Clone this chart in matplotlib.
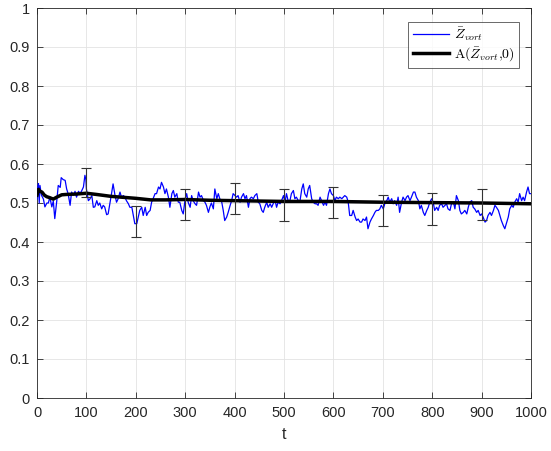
import matplotlib
matplotlib.use("Agg")
import matplotlib.pyplot as plt

# Blue noisy series
t_blue = [0, 1.5, 3, 4.5, 6, 9, 13, 16, 20, 23, 26, 30, 33, 36, 40, 43, 47, 49, 53, 57,
          60, 63, 67, 70, 74, 77, 80, 84, 87, 90, 94, 97, 99, 100, 104, 107, 111, 114, 117, 121,
          124, 127, 131, 134, 137, 141, 144, 148, 151, 154, 158, 161, 164, 168, 171, 175, 178, 181, 185, 188,
          192, 195, 198, 202, 205, 208, 212, 215, 219, 222, 225, 229, 232, 235, 239, 242, 246, 249, 252, 256,
          259, 262, 266, 269, 273, 276, 279, 283, 286, 289, 293, 296, 300, 303, 306, 310, 313, 316, 320, 323,
          327, 330, 333, 337, 340, 343, 347, 350, 353, 357, 360, 364, 367, 370, 374, 377, 380, 384, 387, 391,
          394, 397, 401, 404, 407, 411, 414, 418, 421, 424, 428, 431, 434, 438, 441, 445, 448, 451, 455, 458,
          461, 465, 468, 472, 475, 478, 482, 485, 488, 492, 495, 499, 502, 505, 509, 512, 515, 519, 522, 525,
          529, 532, 536, 539, 542, 546, 549, 552, 556, 559, 563, 566, 569, 573, 576, 580, 583, 586, 590, 593,
          596, 600, 603, 606, 610, 613, 617, 620, 623, 627, 630, 633, 637, 640, 644, 647, 650, 654, 657, 660,
          664, 667, 670, 674, 677, 681, 684, 687, 691, 694, 697, 701, 704, 708, 711, 714, 718, 721, 724, 728,
          731, 734, 738, 741, 745, 748, 751, 755, 758, 762, 765, 768, 772, 775, 778, 782, 785, 789, 792, 795,
          799, 802, 805, 809, 812, 815, 819, 822, 826, 829, 832, 836, 839, 843, 846, 849, 853, 856, 859, 863,
          866, 870, 873, 876, 880, 883, 886, 890, 893, 897, 900, 903, 907, 910, 913, 917, 920, 924, 927, 930,
          934, 937, 940, 944, 947, 950, 954, 957, 961, 964, 967, 971, 974, 977, 981, 984, 987, 991, 994, 997, 1000]
z_blue = [0.510, 0.540, 0.550, 0.500, 0.545, 0.520, 0.510, 0.490, 0.500, 0.500, 0.515, 0.490, 0.505, 0.460, 0.505, 0.545, 0.540, 0.565, 0.560, 0.558,
          0.536, 0.524, 0.494, 0.528, 0.520, 0.530, 0.515, 0.530, 0.525, 0.530, 0.541, 0.571, 0.560, 0.536, 0.506, 0.510, 0.519, 0.489, 0.490, 0.506,
          0.494, 0.500, 0.485, 0.494, 0.490, 0.470, 0.472, 0.502, 0.525, 0.549, 0.519, 0.502, 0.510, 0.528, 0.515, 0.519, 0.515, 0.506, 0.498, 0.489,
          0.489, 0.468, 0.447, 0.447, 0.464, 0.481, 0.489, 0.468, 0.489, 0.468, 0.476, 0.481, 0.502, 0.511, 0.524, 0.524, 0.541, 0.536, 0.553, 0.541,
          0.524, 0.536, 0.515, 0.489, 0.524, 0.532, 0.515, 0.524, 0.502, 0.502, 0.481, 0.472, 0.511, 0.524, 0.502, 0.489, 0.519, 0.506, 0.498, 0.494,
          0.528, 0.515, 0.519, 0.506, 0.502, 0.494, 0.476, 0.490, 0.500, 0.485, 0.536, 0.511, 0.524, 0.511, 0.502, 0.481, 0.455, 0.464, 0.476, 0.494,
          0.506, 0.524, 0.519, 0.515, 0.519, 0.502, 0.515, 0.524, 0.511, 0.519, 0.489, 0.511, 0.515, 0.511, 0.519, 0.524, 0.502, 0.498, 0.481, 0.476,
          0.489, 0.502, 0.489, 0.498, 0.489, 0.498, 0.506, 0.489, 0.502, 0.498, 0.506, 0.519, 0.502, 0.524, 0.502, 0.506, 0.524, 0.532, 0.511, 0.515,
          0.506, 0.502, 0.536, 0.549, 0.524, 0.515, 0.536, 0.545, 0.511, 0.502, 0.498, 0.498, 0.494, 0.515, 0.506, 0.494, 0.502, 0.494, 0.524, 0.536,
          0.524, 0.519, 0.506, 0.515, 0.511, 0.515, 0.511, 0.515, 0.519, 0.515, 0.502, 0.468, 0.468, 0.481, 0.464, 0.455, 0.459, 0.451, 0.451, 0.459,
          0.455, 0.464, 0.434, 0.451, 0.459, 0.468, 0.476, 0.481, 0.481, 0.485, 0.494, 0.485, 0.498, 0.506, 0.515, 0.502, 0.511, 0.498, 0.506, 0.494,
          0.515, 0.476, 0.502, 0.515, 0.506, 0.515, 0.519, 0.506, 0.515, 0.528, 0.528, 0.515, 0.506, 0.485, 0.494, 0.476, 0.468, 0.481, 0.489, 0.502,
          0.511, 0.502, 0.481, 0.489, 0.481, 0.494, 0.498, 0.489, 0.494, 0.498, 0.485, 0.481, 0.498, 0.502, 0.485, 0.519, 0.506, 0.481, 0.472, 0.476,
          0.481, 0.472, 0.489, 0.502, 0.506, 0.489, 0.485, 0.476, 0.481, 0.468, 0.472, 0.464, 0.451, 0.455, 0.468, 0.476, 0.468, 0.481, 0.494, 0.489,
          0.481, 0.468, 0.455, 0.442, 0.434, 0.447, 0.464, 0.485, 0.494, 0.489, 0.502, 0.511, 0.502, 0.524, 0.506, 0.515, 0.506, 0.528, 0.541, 0.524, 0.524]

# Black running-average line
t_avg = [0, 3, 6, 10, 15, 20, 25, 33, 40, 50, 60, 80, 100, 120, 150, 180, 200, 230, 260, 300,
         350, 400, 500, 600, 700, 800, 900, 1000]
z_avg = [0.520, 0.535, 0.530, 0.528, 0.520, 0.516, 0.514, 0.510, 0.515, 0.521, 0.522, 0.523, 0.525, 0.522,
         0.517, 0.514, 0.512, 0.508, 0.508, 0.509, 0.507, 0.506, 0.504, 0.504, 0.502, 0.501, 0.500, 0.498]

# Error bars
err_t = [100, 200, 300, 400, 500, 600, 700, 800, 900]
err_mean = [0.552, 0.452, 0.497, 0.512, 0.495, 0.502, 0.481, 0.485, 0.496]
err_half = [0.037, 0.040, 0.040, 0.040, 0.040, 0.040, 0.039, 0.041, 0.039]

x_ticks = list(range(0, 1001, 100))
y_ticks = [0, 0.1, 0.2, 0.3, 0.4, 0.5, 0.6, 0.7, 0.8, 0.9, 1]
y_tick_labels = ["0", "0.1", "0.2", "0.3", "0.4", "0.5", "0.6", "0.7", "0.8", "0.9", "1"]

plt.rcParams['font.family'] = ['Liberation Sans', 'DejaVu Sans']
plt.rcParams['mathtext.fontset'] = 'cm'

fig = plt.figure(figsize=(5.51, 4.51), dpi=100)
ax = fig.add_axes([37 / 551, 53 / 451, (531 - 37) / 551, (398 - 8) / 451])

ax.plot(t_blue, z_blue, color='#0000ff', linewidth=0.9, label=r'$\bar{Z}_{vort}$', zorder=3)
ax.plot(t_avg, z_avg, color='black', linewidth=2.5, label=r'$\mathrm{A}(\bar{Z}_{vort}{,}0)$', zorder=4)
ax.errorbar(err_t, err_mean, yerr=err_half, fmt='none', ecolor='#333333', elinewidth=0.8,
            capsize=3.5, capthick=0.8, zorder=5)

ax.set_xlim(0, 1000)
ax.set_ylim(0, 1)
ax.set_xticks(x_ticks)
ax.set_yticks(y_ticks)
ax.set_yticklabels(y_tick_labels)
ax.tick_params(direction='in', top=True, right=True, labelsize=10.5, colors='#262626', length=4, width=0.6)
ax.tick_params(axis='x', pad=6)
ax.tick_params(axis='y', pad=5)
ax.grid(True, color='#e3e3e3', linewidth=0.6)
ax.set_axisbelow(True)
for s in ax.spines.values():
    s.set_color('#262626')
    s.set_linewidth(0.6)
ax.set_xlabel('t', fontsize=11.5, color='#262626', labelpad=5)

leg = ax.legend(loc='upper right', bbox_to_anchor=(0.975, 0.965), fontsize=10, frameon=True,
                fancybox=False, edgecolor='#262626', handlelength=2.6, borderpad=0.3,
                labelspacing=0.15, handletextpad=0.35, borderaxespad=0.0)
leg.get_frame().set_linewidth(0.6)

fig.savefig('out.png', dpi=100)
